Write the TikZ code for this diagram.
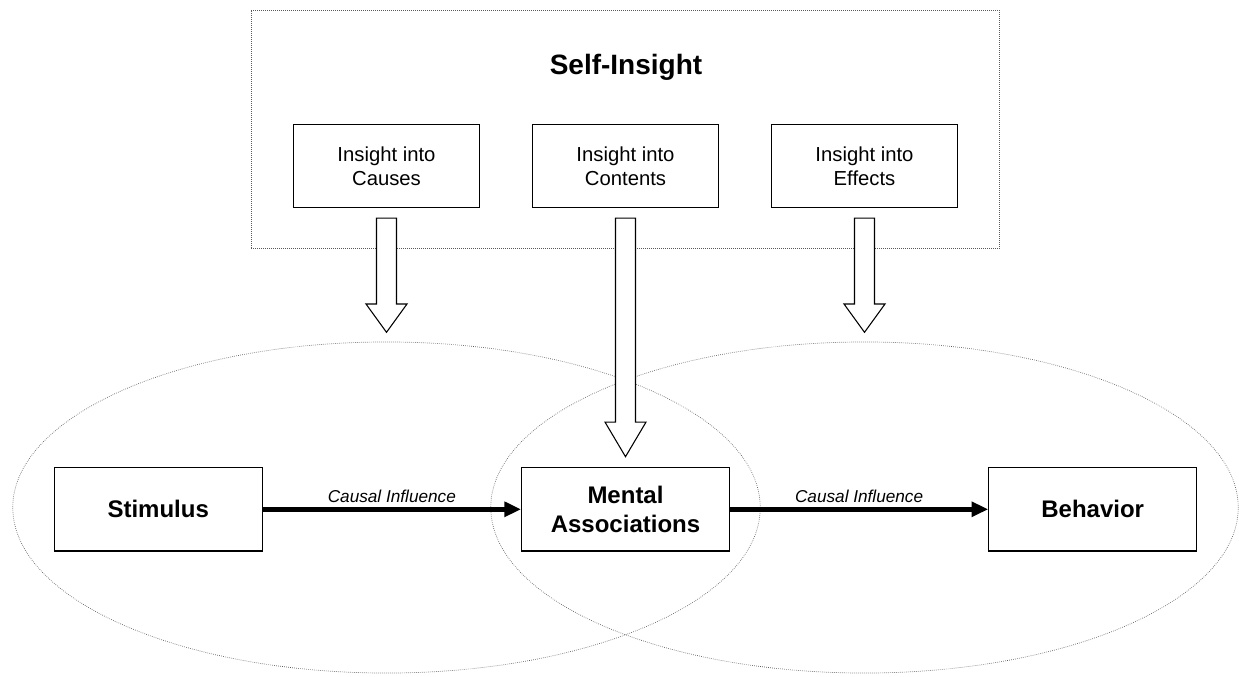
\documentclass[tikz,border=0pt]{standalone}
\usepackage{fontspec}
\setmainfont{Liberation Sans}
\usepackage{tikz}
\usetikzlibrary{shapes,arrows.meta,positioning,calc}

\tikzset{
  groupframe/.style={draw=gray!70!black, densely dotted, line width=0.5pt,
    minimum width=561.2pt, minimum height=178.5pt, inner sep=0pt},
  zone/.style={ellipse, draw=gray!70!black, densely dotted, line width=0.5pt,
    minimum width=560.6pt, minimum height=248.3pt, inner sep=0pt},
  insightbox/.style={draw, line width=0.8pt, fill=white, minimum width=140pt,
    minimum height=62.5pt, align=center, font=\fontsize{15.2}{18}\selectfont},
  stagebox/.style={draw, line width=0.8pt, fill=white, minimum width=156pt,
    minimum height=62.5pt, align=center, font=\fontsize{18}{22}\selectfont\bfseries},
  causal/.style={line width=3.75pt, -{Triangle[length=12.5pt,width=11pt]}},
  causallabel/.style={above, font=\fontsize{12.9}{15}\selectfont\itshape},
  blockarrow/.style={draw, line width=0.8pt, fill=white, line join=miter}
}

% hollow block arrow: start, tip, head length
\newcommand{\insightarrow}[3]{%
  \draw[blockarrow] ($(#1)+(-10,0)$) -- ($(#1)+(10,0)$) -- ($(#2)+(10,-#3)$)
    -- ($(#2)+(20.5,-#3)$) -- (#2) -- ($(#2)+(-20.5,-#3)$)
    -- ($(#2)+(-10,-#3)$) -- cycle;
}

\begin{document}
\begin{tikzpicture}[x=0.75pt, y=-0.75pt]
    \useasboundingbox (0,0) rectangle (1239,677);

    % Self-insight frame
    \node[groupframe] (selfframe) at (625.2,129) {};
    \node[font=\fontsize{21}{25}\selectfont\bfseries] (selftitle) at (626,67.5) {Self-Insight};

    % Zones
    \node[zone] (causezone) at (386.5,507.5) {};
    \node[zone] (effectzone) at (864.5,507.5) {};

    % Insight boxes
    \node[insightbox] (causes) at (386.5,166) {Insight into\\Causes};
    \node[insightbox] (contents) at (625.5,166) {Insight into\\Contents};
    \node[insightbox] (effects) at (864.5,166) {Insight into\\Effects};

    % Stages
    \node[stagebox] (stimulus) at (158.2,509.3) {Stimulus};
    \node[stagebox] (mental) at (625.5,509.3) {Mental\\Associations};
    \node[stagebox] (behavior) at (1092.7,509.3) {Behavior};

    % Block arrows
    \coordinate (causes-top) at ($(causes.south)+(0,10)$);
    \coordinate (contents-top) at ($(contents.south)+(0,10)$);
    \coordinate (effects-top) at ($(effects.south)+(0,10)$);
    \coordinate (causes-tip) at (386.5,332.3);
    \coordinate (contents-tip) at ($(mental.north)+(0,-10.4)$);
    \coordinate (effects-tip) at (864.5,332.3);
    \insightarrow{causes-top}{causes-tip}{28.3}
    \insightarrow{contents-top}{contents-tip}{34.6}
    \insightarrow{effects-top}{effects-tip}{28.3}

    % Causal links
    \draw[causal] (stimulus) -- (mental) node[causallabel, midway] {Causal Influence};
    \draw[causal] (mental) -- (behavior) node[causallabel, midway] {Causal Influence};
\end{tikzpicture}
\end{document}
